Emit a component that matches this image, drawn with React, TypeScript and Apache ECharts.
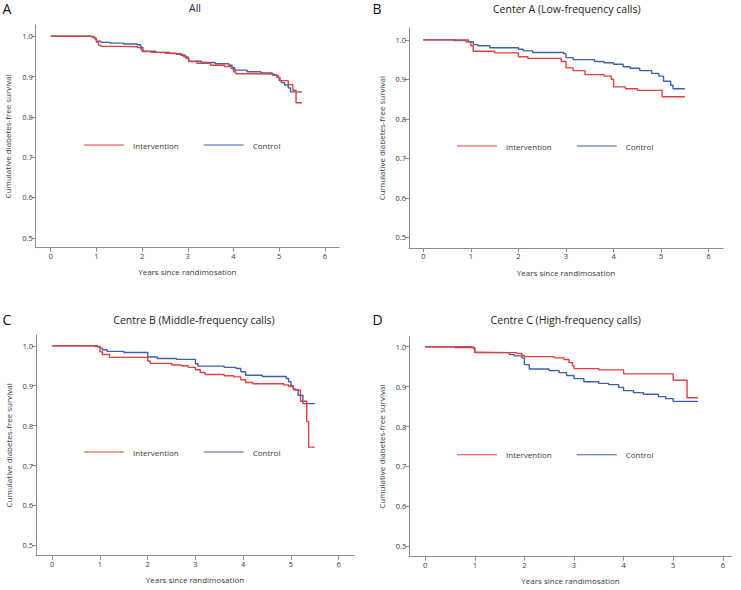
import React, { useEffect, useRef } from "react";
import * as echarts from "echarts";

// ---- Data (years since randomisation, cumulative diabetes-free survival) ----
const xTicks = [0, 1, 2, 3, 4, 5, 6];
const yTicks = [0.5, 0.6, 0.7, 0.8, 0.9, 1.0];
const seriesNames = ["Intervention", "Control"];
const panelTitles = ["All", "Center A (Low-frequency calls)", "Centre B (Middle-frequency calls)", "Centre C (High-frequency calls)"];
const panelLetters = ["A", "B", "C", "D"];
const xAxisTitle = "Years since randimosation";
const yAxisTitle = "Cumulative diabetes-free survival";

const aIntervention: number[][] = [
  [0, 1.0], [0.85, 0.999], [0.95, 0.995], [1.0, 0.985], [1.05, 0.978], [1.1, 0.975], [1.5, 0.974], [1.9, 0.972],
  [1.97, 0.968], [2.0, 0.962], [2.2, 0.96], [2.5, 0.958], [2.75, 0.955], [2.9, 0.95], [2.97, 0.945], [3.02, 0.937],
  [3.2, 0.933], [3.5, 0.928], [3.8, 0.925], [3.95, 0.92], [4.0, 0.912], [4.05, 0.907], [4.5, 0.906], [4.9, 0.903],
  [4.98, 0.898], [5.02, 0.89], [5.2, 0.88], [5.3, 0.866], [5.37, 0.835], [5.5, 0.835],
];
const aControl: number[][] = [
  [0, 1.0], [0.9, 0.998], [0.97, 0.993], [1.0, 0.988], [1.1, 0.985], [1.3, 0.983], [1.6, 0.981], [1.9, 0.979],
  [1.97, 0.972], [2.02, 0.963], [2.3, 0.96], [2.6, 0.957], [2.85, 0.953], [2.95, 0.948], [3.02, 0.938], [3.3, 0.935],
  [3.6, 0.932], [3.9, 0.928], [3.97, 0.922], [4.03, 0.916], [4.3, 0.912], [4.6, 0.909], [4.85, 0.904], [4.95, 0.898],
  [5.0, 0.89], [5.05, 0.885], [5.12, 0.879], [5.2, 0.872], [5.25, 0.862], [5.5, 0.862],
];
const bIntervention: number[][] = [
  [0, 1.0], [0.65, 0.998], [0.9, 0.995], [1.0, 0.985], [1.05, 0.971], [1.5, 0.967], [2.0, 0.957], [2.2, 0.953],
  [2.9, 0.945], [3.0, 0.929], [3.15, 0.922], [3.4, 0.912], [3.8, 0.908], [3.95, 0.9], [4.0, 0.881], [4.25, 0.876],
  [4.5, 0.872], [5.02, 0.856], [5.5, 0.856],
];
const bControl: number[][] = [
  [0, 1.0], [0.95, 0.995], [1.05, 0.988], [1.15, 0.985], [1.4, 0.98], [2.0, 0.976], [2.1, 0.972], [2.3, 0.968],
  [2.95, 0.965], [3.0, 0.955], [3.15, 0.95], [3.6, 0.945], [3.8, 0.942], [4.0, 0.938], [4.2, 0.932], [4.35, 0.928],
  [4.55, 0.922], [4.8, 0.915], [4.95, 0.908], [5.05, 0.895], [5.2, 0.885], [5.25, 0.876], [5.5, 0.876],
];
const cIntervention: number[][] = [
  [0, 1.0], [0.9, 0.998], [1.0, 0.985], [1.05, 0.978], [1.2, 0.971], [2.0, 0.962], [2.05, 0.956], [2.5, 0.952],
  [2.7, 0.95], [2.85, 0.946], [3.0, 0.94], [3.1, 0.933], [3.2, 0.928], [3.6, 0.925], [3.8, 0.922], [3.95, 0.915],
  [4.05, 0.908], [4.2, 0.905], [4.85, 0.902], [4.95, 0.898], [5.05, 0.892], [5.1, 0.889], [5.2, 0.861],
  [5.33, 0.81], [5.37, 0.746], [5.5, 0.746],
];
const cControl: number[][] = [
  [0, 1.0], [0.95, 0.997], [1.0, 0.994], [1.05, 0.99], [1.15, 0.986], [1.5, 0.983], [2.0, 0.972], [2.2, 0.968],
  [2.6, 0.966], [3.0, 0.955], [3.05, 0.949], [3.6, 0.946], [3.85, 0.943], [3.95, 0.935], [4.05, 0.926], [4.4, 0.923],
  [4.9, 0.918], [4.95, 0.91], [5.0, 0.9], [5.05, 0.89], [5.15, 0.876], [5.25, 0.855], [5.5, 0.855],
];
const dIntervention: number[][] = [
  [0, 1.0], [0.95, 0.998], [1.0, 0.986], [1.05, 0.985], [1.85, 0.983], [1.95, 0.978], [2.0, 0.975], [2.6, 0.972],
  [2.8, 0.968], [2.9, 0.96], [2.97, 0.952], [3.0, 0.945], [3.5, 0.942], [4.0, 0.932], [5.0, 0.916], [5.28, 0.872],
  [5.5, 0.872],
];
const dControl: number[][] = [
  [0, 1.0], [0.6, 0.998], [0.98, 0.995], [1.0, 0.985], [1.7, 0.98], [1.8, 0.977], [1.95, 0.972], [2.0, 0.955],
  [2.1, 0.944], [2.5, 0.94], [2.7, 0.935], [2.85, 0.928], [3.0, 0.92], [3.2, 0.912], [3.5, 0.908], [3.7, 0.905],
  [3.9, 0.898], [4.0, 0.89], [4.2, 0.885], [4.4, 0.881], [4.7, 0.875], [4.85, 0.87], [5.0, 0.863], [5.5, 0.863],
];
const panelData = [
  [aIntervention, aControl],
  [bIntervention, bControl],
  [cIntervention, cControl],
  [dIntervention, dControl],
];

// ---- Layout (pixel geometry) ----
const layout = [
  { left: 35.7, top: 25, width: 303.3, height: 222.7, xMin: -0.328, xMax: 6.31, yMin: 0.4754, yMax: 1.028,
    titleX: 195, titleY: 8.3, letterX: 2.5, letterY: 8.6, legendX: 84, legendY: 146 },
  { left: 409, top: 28, width: 314, height: 220.3, xMin: -0.3, xMax: 6.3, yMin: 0.472, yMax: 1.03,
    titleX: 566.8, titleY: 9, letterX: 372.5, letterY: 8.2, legendX: 457, legendY: 147 },
  { left: 36, top: 335, width: 318, height: 220.7, xMin: -0.34, xMax: 6.32, yMin: 0.474, yMax: 1.027,
    titleX: 194, titleY: 320, letterX: 2.5, letterY: 319, legendX: 84, legendY: 453 },
  { left: 409.3, top: 336.7, width: 322.4, height: 220, xMin: -0.32, xMax: 6.18, yMin: 0.474, yMax: 1.025,
    titleX: 565.7, titleY: 320, letterX: 372.5, letterY: 319, legendX: 457, legendY: 455.7 },
];

const RED = "#e2403f";
const BLUE = "#3f60ad";
const FONT = "'Open Sans', 'Noto Sans', sans-serif";
const AXIS_COLOR = "#8c8c8c";
const LABEL_COLOR = "#3a3a3a";

export default function App() {
  const ref = useRef<HTMLDivElement>(null);
  useEffect(() => {
    if (!ref.current) return;
    const chart = echarts.init(ref.current, undefined, { renderer: "svg" });

    const grids = layout.map((l) => ({ left: l.left, top: l.top, width: l.width, height: l.height, containLabel: false }));
    const xAxes = layout.map((l, i) => ({
      type: "value",
      gridIndex: i,
      min: l.xMin,
      max: l.xMax,
      name: xAxisTitle,
      nameLocation: "middle",
      nameGap: 20,
      nameTextStyle: { fontFamily: FONT, fontSize: 8, color: LABEL_COLOR },
      splitLine: { show: false },
      axisLine: { onZero: false, lineStyle: { color: AXIS_COLOR, width: 1 } },
      axisTick: { show: true, length: 4, customValues: xTicks, lineStyle: { color: AXIS_COLOR } },
      axisLabel: {
        customValues: xTicks,
        margin: 4,
        fontFamily: FONT,
        fontSize: 7.5,
        color: LABEL_COLOR,
        formatter: (v: number) => String(Math.round(v)),
      },
    }));
    const yAxes = layout.map((l, i) => ({
      type: "value",
      gridIndex: i,
      min: l.yMin,
      max: l.yMax,
      name: yAxisTitle,
      nameLocation: "middle",
      nameGap: 24,
      nameTextStyle: { fontFamily: FONT, fontSize: 8, color: LABEL_COLOR },
      splitLine: { show: false },
      axisLine: { onZero: false, lineStyle: { color: AXIS_COLOR, width: 1 } },
      axisTick: { show: true, length: 4, customValues: yTicks, lineStyle: { color: AXIS_COLOR } },
      axisLabel: {
        customValues: yTicks,
        margin: 3,
        fontFamily: FONT,
        fontSize: 7.5,
        color: LABEL_COLOR,
        formatter: (v: number) => v.toFixed(1),
      },
    }));

    const series: any[] = [];
    panelData.forEach((pair, i) => {
      pair.forEach((data, k) => {
        series.push({
          type: "line",
          name: seriesNames[k],
          xAxisIndex: i,
          yAxisIndex: i,
          step: "end",
          symbol: "none",
          data,
          color: k === 0 ? RED : BLUE,
          lineStyle: { width: 1.4, color: k === 0 ? RED : BLUE },
          z: k === 0 ? 3 : 2,
        });
      });
    });

    const titles: any[] = [];
    layout.forEach((l, i) => {
      titles.push({
        text: panelTitles[i],
        left: l.titleX,
        top: l.titleY,
        textAlign: "center",
        textVerticalAlign: "middle",
        padding: 0,
        textStyle: { fontFamily: FONT, fontSize: 10.5, fontWeight: "normal", color: "#222", lineHeight: 12 },
      });
      titles.push({
        text: panelLetters[i],
        left: l.letterX,
        top: l.letterY,
        textAlign: "left",
        textVerticalAlign: "middle",
        padding: 0,
        textStyle: { fontFamily: FONT, fontSize: 14, fontWeight: "normal", color: "#111", lineHeight: 14 },
      });
    });

    const legends = layout.map((l) => ({
      data: seriesNames,
      left: l.legendX,
      top: l.legendY - 5,
      padding: 0,
      itemWidth: 40,
      itemHeight: 10,
      itemGap: 25,
      selectedMode: false,
      icon: "path://M0,0 L40,0 L40,1 L0,1 Z",
      textStyle: { fontFamily: FONT, fontSize: 8, color: LABEL_COLOR, padding: [0, 0, 0, 4] },
    }));

    chart.setOption({
      animation: false,
      backgroundColor: "#ffffff",
      title: titles,
      legend: legends,
      grid: grids,
      xAxis: xAxes,
      yAxis: yAxes,
      series,
    });
    return () => chart.dispose();
  }, []);
  return <div ref={ref} style={{ position: "absolute", left: 0, top: 0, width: 741, height: 590 }} />;
}
